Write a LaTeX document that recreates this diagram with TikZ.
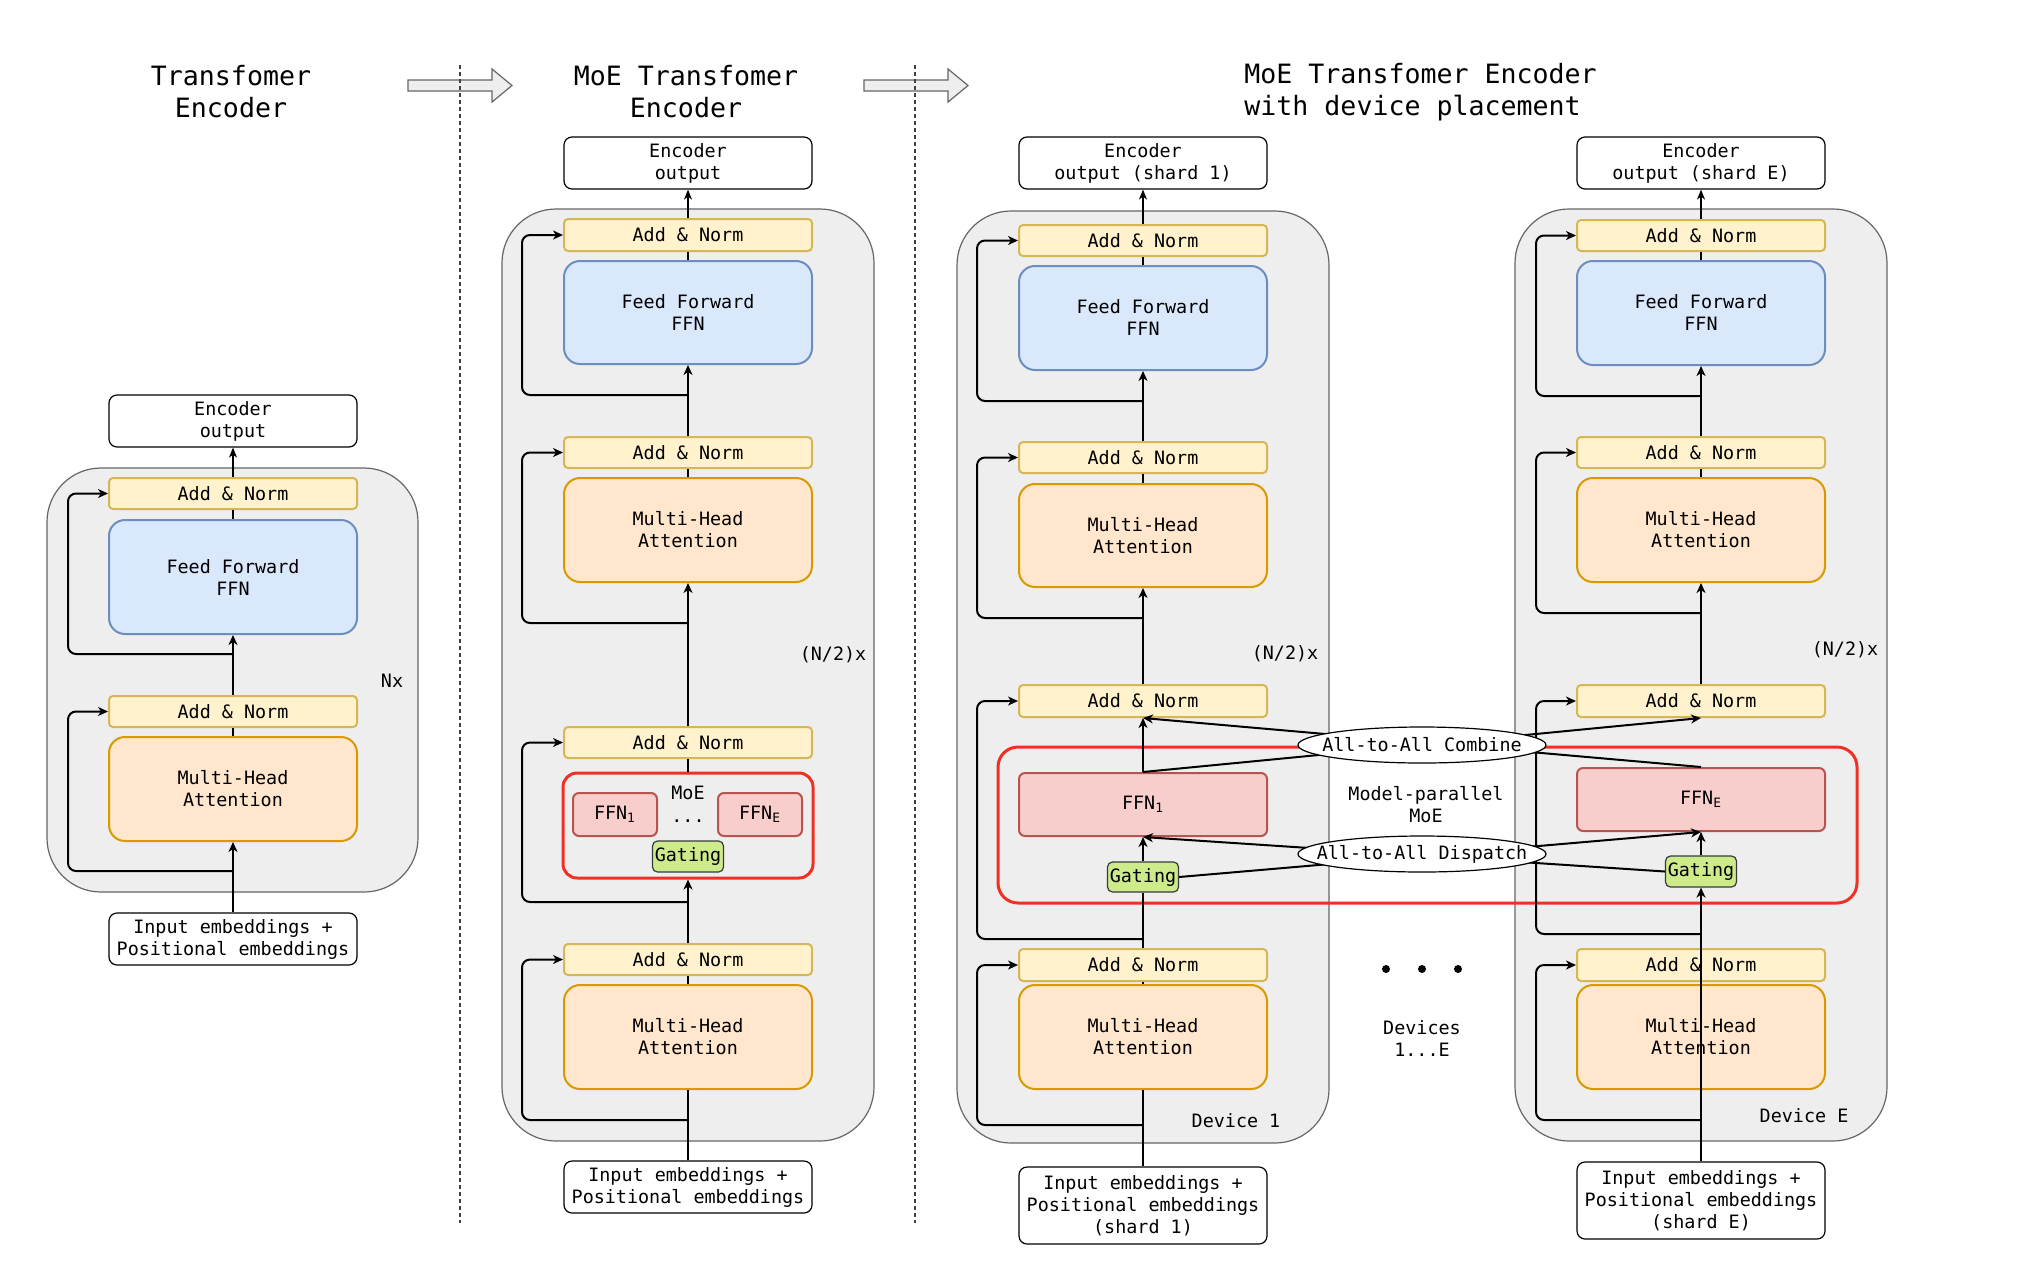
\documentclass[tikz,border=0pt]{standalone}
\usepackage{fontspec}
\setmainfont{DejaVu Sans Mono}
\usetikzlibrary{arrows.meta,shapes.geometric,calc}
\definecolor{anfill}{HTML}{FFF2CC}\definecolor{andraw}{HTML}{D6B656}
\definecolor{ffnfill}{HTML}{DAE8FC}\definecolor{ffndraw}{HTML}{6C8EBF}
\definecolor{mhafill}{HTML}{FFE6CC}\definecolor{mhadraw}{HTML}{D79B00}
\definecolor{expfill}{HTML}{F8CECC}\definecolor{expdraw}{HTML}{B85450}
\definecolor{gatefill}{HTML}{CDEB8B}\definecolor{gatedraw}{HTML}{36393D}
\definecolor{contfill}{HTML}{EEEEEE}\definecolor{contdraw}{HTML}{666666}
\definecolor{moered}{HTML}{EE3124}
\definecolor{arrfill}{HTML}{EEEEEE}
\tikzset{
  base/.style={inner sep=0pt, align=center, line width=1pt},
  addnorm/.style={base, fill=anfill, draw=andraw, rounded corners=2pt, minimum width=124pt, minimum height=15.5pt},
  ffnbox/.style={base, fill=ffnfill, draw=ffndraw, rounded corners=8pt, minimum width=124pt, minimum height=52pt},
  mhabox/.style={base, fill=mhafill, draw=mhadraw, rounded corners=8pt, minimum width=124pt, minimum height=52pt},
  iobox/.style={base, fill=white, draw=black, line width=0.6pt, rounded corners=4pt, minimum width=124pt, minimum height=26pt},
  expert/.style={base, fill=expfill, draw=expdraw, rounded corners=3pt},
  gating/.style={base, fill=gatefill, draw=gatedraw, line width=0.6pt, rounded corners=2.5pt, minimum width=35.5pt, minimum height=15.5pt},
  container/.style={fill=contfill, draw=contdraw, line width=0.6pt, rounded corners=27pt, inner sep=0pt},
  moebox/.style={draw=moered, line width=1.5pt, inner sep=0pt},
  ellbox/.style={ellipse, draw=black, fill=white, line width=0.6pt, inner sep=0pt, minimum width=124pt, minimum height=18pt},
  conn/.style={line width=1pt, draw=black},
  arr/.style={conn, -{Stealth[length=5pt,width=4.5pt,inset=1.5pt]}},
  arrthin/.style={line width=0.6pt, draw=black, -{Stealth[length=5pt,width=4pt,inset=1.5pt]}},
  skip/.style={arr, rounded corners=4pt},
  bigarrow/.style={fill=arrfill, draw=contdraw, line width=0.6pt},
  sep/.style={draw=black!75, line width=0.6pt, dash pattern=on 2pt off 1.5pt},
  title/.style={align=center, inner sep=0pt, font=\fontsize{13.3}{16}\selectfont},
  txt/.style={align=center, inner sep=0pt},
}
\begin{document}
\begin{tikzpicture}[x=0.5pt, y=-0.5pt, font=\fontsize{9.2}{11}\selectfont]
\useasboundingbox (0,0) rectangle (2044,1270);
\fill[white] (0,0) rectangle (2044,1270);

% titles
\node[title] (t1) at (231,92) {Transfomer\\Encoder};
\node[title] (t2) at (686,92) {MoE Transfomer\\Encoder};
\node[title, align=left, anchor=west] (t3) at (1244,92) {MoE Transfomer Encoder\\with device placement};

% big arrows
\draw[bigarrow] (408,80) -- (492,80) -- (492,69) -- (512,85.5) -- (492,102) -- (492,91) -- (408,91) -- cycle;
\draw[bigarrow] (864,80) -- (948,80) -- (948,69) -- (968,85.5) -- (948,102) -- (948,91) -- (864,91) -- cycle;
\draw[sep] (460,65) -- (460,1223);
\draw[sep] (915,65) -- (915,1223);

% containers
\node[container, minimum width=185.5pt, minimum height=212pt] (c1) at (232.5,680) {};
\node[container, minimum width=186pt, minimum height=466pt] (c2) at (688,675) {};
\node[container, minimum width=186pt, minimum height=466pt] (c3) at (1143,677) {};
\node[container, minimum width=186pt, minimum height=466pt] (c4) at (1701,675) {};

% ---------- column 1 ----------
\node[iobox] (out1) at (233,421) {Encoder\\output};
\node[addnorm] (an1a) at (233,493.5) {Add \& Norm};
\node[ffnbox, minimum height=57pt] (ffn1) at (233,577) {Feed Forward\\FFN};
\node[addnorm] (an1b) at (233,711.5) {Add \& Norm};
\node[mhabox] (mha1) at (233,789) {Multi-Head\\Attention};
\node[iobox] (in1) at (233,939) {Input embeddings +\\Positional embeddings};
\node[txt] (nx1) at (392,681) {Nx};

\coordinate (s1) at (68,0);
\coordinate (j1a) at (233,654);
\coordinate (j1b) at (233,871);
\draw[arr] (in1.north) -- (mha1.south);
\draw[conn] (mha1.north) -- (an1b.south);
\draw[arr] (an1b.north) -- (ffn1.south);
\draw[conn] (ffn1.north) -- (an1a.south);
\draw[arrthin] (an1a.north) -- (out1.south);
\draw[skip] (j1b) -- (j1b -| s1) |- (an1b.west);
\draw[skip] (j1a) -- (j1a -| s1) |- (an1a.west);

% ---------- column 2 ----------
\node[iobox] (out2) at (688,163) {Encoder\\output};
\node[addnorm, minimum height=16pt] (an2a) at (688,235) {Add \& Norm};
\node[ffnbox, minimum height=51.5pt] (ffn2) at (688,312.5) {Feed Forward\\FFN};
\node[addnorm] (an2b) at (688,452.5) {Add \& Norm};
\node[mhabox] (mha2a) at (688,530) {Multi-Head\\Attention};
\node[addnorm] (an2c) at (688,742.5) {Add \& Norm};
\node[moebox, rounded corners=7pt, minimum width=125pt, minimum height=52.5pt] (moe2) at (688,825.5) {};
\node[expert, minimum width=42pt, minimum height=21.5pt] (e2a) at (615,814.5) {FFN\textsubscript{1}};
\node[expert, minimum width=42pt, minimum height=21.5pt] (e2b) at (760,814.5) {FFN\textsubscript{E}};
\node[txt] (moel2) at (688,793) {MoE};
\node[txt] (dots2) at (688,821) {...};
\node[gating] (gate2) at (688,856.5) {Gating};
\node[addnorm] (an2d) at (688,959.5) {Add \& Norm};
\node[mhabox] (mha2b) at (688,1037) {Multi-Head\\Attention};
\node[iobox] (in2) at (688,1187) {Input embeddings +\\Positional embeddings};
\node[txt] (nx2) at (833,655) {(N/2)x};

\coordinate (s2) at (522,0);
\coordinate (j2a) at (688,395);
\coordinate (j2b) at (688,623);
\coordinate (j2c) at (688,902);
\coordinate (j2d) at (688,1120);
\draw[conn] (in2.north) -- (mha2b.south);
\draw[conn] (mha2b.north) -- (an2d.south);
\draw[arr] (an2d.north) -- (moe2.south);
\draw[conn] (moe2.north) -- (an2c.south);
\draw[arr] (an2c.north) -- (mha2a.south);
\draw[conn] (mha2a.north) -- (an2b.south);
\draw[arr] (an2b.north) -- (ffn2.south);
\draw[conn] (ffn2.north) -- (an2a.south);
\draw[arrthin] (an2a.north) -- (out2.south);
\draw[skip] (j2a) -- (j2a -| s2) |- (an2a.west);
\draw[skip] (j2b) -- (j2b -| s2) |- (an2b.west);
\draw[skip] (j2c) -- (j2c -| s2) |- (an2c.west);
\draw[skip] (j2d) -- (j2d -| s2) |- (an2d.west);

% ---------- big MoE box ----------
\node[moebox, rounded corners=10pt, minimum width=429.5pt, minimum height=78pt] (moe) at (1427.5,825) {};

% ---------- column 3 ----------
\node[iobox] (out3) at (1143,163) {Encoder\\output (shard 1)};
\node[addnorm] (an3a) at (1143,240.5) {Add \& Norm};
\node[ffnbox] (ffn3) at (1143,318) {Feed Forward\\FFN};
\node[addnorm] (an3b) at (1143,457.5) {Add \& Norm};
\node[mhabox, minimum height=51.5pt] (mha3a) at (1143,535.5) {Multi-Head\\Attention};
\node[addnorm, minimum height=16pt] (an3c) at (1143,701) {Add \& Norm};
\node[expert, minimum width=124pt, minimum height=31.5pt] (e3) at (1143,804.5) {FFN\textsubscript{1}};
\node[gating, minimum height=15pt] (gate3) at (1143,877) {Gating};
\node[addnorm, minimum height=16pt] (an3d) at (1143,965) {Add \& Norm};
\node[mhabox] (mha3b) at (1143,1037) {Multi-Head\\Attention};
\node[iobox, minimum height=38.5pt] (in3) at (1143,1205.5) {Input embeddings +\\Positional embeddings\\(shard 1)};
\node[txt] (nx3) at (1285,654) {(N/2)x};
\node[txt] (dev1) at (1236,1121) {Device 1};

\coordinate (s3) at (977,0);
\coordinate (j3a) at (1143,401);
\coordinate (j3b) at (1143,618);
\coordinate (j3c) at (1143,939);
\coordinate (j3d) at (1143,1125);
\draw[conn] (in3.north) -- (mha3b.south);
\draw[conn] (mha3b.north) -- (an3d.south);
\draw[conn] (an3d.north) -- (gate3.south);
\draw[arr] (gate3.north) -- (e3.south);
\draw[arr] (e3.north) -- (an3c.south);
\draw[arr] (an3c.north) -- (mha3a.south);
\draw[conn] (mha3a.north) -- (an3b.south);
\draw[arr] (an3b.north) -- (ffn3.south);
\draw[conn] (ffn3.north) -- (an3a.south);
\draw[arrthin] (an3a.north) -- (out3.south);
\draw[skip] (j3a) -- (j3a -| s3) |- (an3a.west);
\draw[skip] (j3b) -- (j3b -| s3) |- (an3b.west);
\draw[skip] (j3c) -- (j3c -| s3) |- (an3c.west);
\draw[skip] (j3d) -- (j3d -| s3) |- (an3d.west);

% ---------- column 4 ----------
\node[iobox] (out4) at (1701,163) {Encoder\\output (shard E)};
\node[addnorm] (an4a) at (1701,235.5) {Add \& Norm};
\node[ffnbox] (ffn4) at (1701,313) {Feed Forward\\FFN};
\node[addnorm] (an4b) at (1701,452.5) {Add \& Norm};
\node[mhabox] (mha4a) at (1701,530) {Multi-Head\\Attention};
\node[addnorm, minimum height=16pt] (an4c) at (1701,701) {Add \& Norm};
\node[expert, minimum width=124pt, minimum height=31.5pt] (e4) at (1701,799.5) {FFN\textsubscript{E}};
\node[gating] (gate4) at (1701,871.5) {Gating};
\node[addnorm, minimum height=16pt] (an4d) at (1701,965) {Add \& Norm};
\node[mhabox] (mha4b) at (1701,1037) {Multi-Head\\Attention};
\node[iobox, minimum height=38.5pt] (in4) at (1701,1200.5) {Input embeddings +\\Positional embeddings\\(shard E)};
\node[txt] (nx4) at (1845,650) {(N/2)x};
\node[txt] (devE) at (1804,1116) {Device E};

\coordinate (s4) at (1536,0);
\coordinate (j4a) at (1701,396);
\coordinate (j4b) at (1701,613);
\coordinate (j4c) at (1701,934);
\coordinate (j4d) at (1701,1120);
\draw[arr] (in4.north) -- (gate4.south);
\draw[arr] (gate4.north) -- (e4.south);
\draw[arr] (an4c.north) -- (mha4a.south);
\draw[conn] (mha4a.north) -- (an4b.south);
\draw[arr] (an4b.north) -- (ffn4.south);
\draw[conn] (ffn4.north) -- (an4a.south);
\draw[arrthin] (an4a.north) -- (out4.south);
\draw[skip] (j4a) -- (j4a -| s4) |- (an4a.west);
\draw[skip] (j4b) -- (j4b -| s4) |- (an4b.west);
\draw[skip] (j4c) -- (j4c -| s4) |- (an4c.west);
\draw[skip] (j4d) -- (j4d -| s4) |- (an4d.west);

% ---------- all-to-all ----------
\draw[arr] (e3.north) -- (an4c.south);
\draw[arr] (e4.north) -- (an3c.south);
\draw[arr] (gate3.east) -- (e4.south);
\draw[arr] (gate4.west) -- (e3.south);
\node[ellbox] (comb) at (1422,745) {};
\node[txt] (combt) at (comb.center) {All-to-All Combine};
\node[ellbox] (disp) at (1422,854) {};
\node[txt] (dispt) at (disp.center) {All-to-All Dispatch};
\node[txt] (mpm) at (1426,804.5) {Model-parallel\\MoE};

% devices
\fill (1386,969) circle (4);
\fill (1422,969) circle (4);
\fill (1458,969) circle (4);
\node[txt] (devs) at (1422,1038.5) {Devices\\1...E};
\end{tikzpicture}
\end{document}
